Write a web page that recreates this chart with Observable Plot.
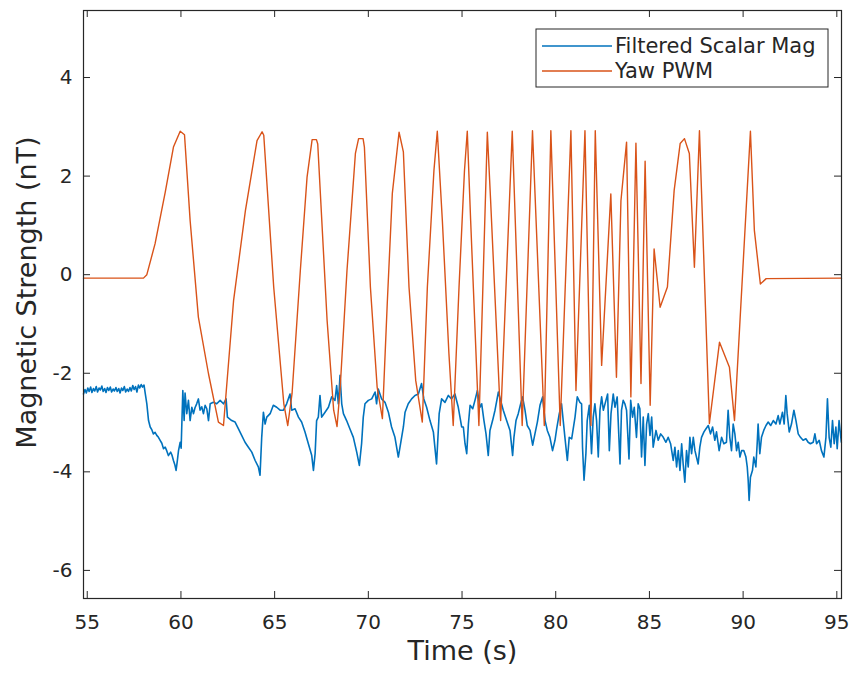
<!DOCTYPE html>
<html><head><meta charset="utf-8">
<script src="https://cdn.jsdelivr.net/npm/d3@7"></script>
<script src="https://cdn.jsdelivr.net/npm/@observablehq/plot@0.6"></script>
<style>html,body{margin:0;padding:0;background:#fff} svg{display:block}</style>
</head><body><div id="chart"></div>
<script>
// ---- data ----
const magTime = [54.80,54.88,54.95,55.03,55.10,55.18,55.25,55.33,55.40,55.48,55.55,55.63,55.70,55.78,55.85,55.93,56.00,56.08,56.15,56.23,56.30,56.38,56.45,56.53,56.60,56.68,56.75,56.83,56.90,56.98,57.05,57.13,57.20,57.28,57.35,57.43,57.50,57.58,57.65,57.73,57.80,57.88,57.95,58.03,
58.09,58.18,58.27,58.36,58.45,58.53,58.62,58.71,58.80,58.89,58.98,59.07,59.16,59.24,59.33,59.45,59.52,59.60,59.67,59.74,59.80,59.87,59.96,60.01,60.10,60.17,60.22,60.31,60.40,60.49,60.58,60.67,60.75,60.84,60.93,61.02,61.11,61.20,61.29,61.38,61.47,61.56,61.73,61.91,62.09,62.27,62.41,62.48,62.71,62.89,63.07,63.24,63.42,63.60,63.78,63.96,64.13,64.22,64.31,64.40,64.49,64.58,64.76,64.93,65.11,65.29,65.47,65.64,65.82,65.91,66.09,66.27,66.44,66.62,66.80,66.98,67.07,67.16,67.24,67.33,67.42,67.51,67.69,67.87,68.04,68.22,68.31,68.40,68.49,68.58,68.67,68.84,69.02,69.20,69.38,69.52,69.64,69.73,69.82,70.00,70.18,70.36,70.44,70.53,70.71,70.89,71.07,71.24,71.42,71.60,71.69,71.87,71.96,72.13,72.31,72.49,72.67,72.84,72.96,73.11,73.29,73.47,73.64,73.78,73.91,74.09,74.27,74.44,74.62,74.80,74.98,
75.07,75.16,75.25,75.34,75.43,75.57,75.69,75.82,75.96,76.05,76.17,76.28,76.40,76.49,76.63,76.76,76.94,77.06,77.20,77.38,77.56,77.70,77.77,77.88,78.00,78.13,78.23,78.36,78.48,78.63,78.77,78.89,79.02,79.16,79.30,79.43,79.55,79.69,79.83,79.96,80.05,80.19,80.31,80.40,80.49,80.62,80.72,80.85,81.03,81.15,81.29,81.38,81.43,81.51,81.61,81.68,81.79,81.91,82.00,82.09,82.18,82.27,82.36,82.45,82.54,82.68,82.77,82.86,82.95,83.07,83.16,83.28,83.43,83.51,83.60,83.69,83.78,83.91,84.00,84.10,84.19,84.31,84.40,84.49,84.58,84.67,84.76,84.85,84.94,85.03,85.12,85.20,85.35,85.47,85.60,85.74,85.88,86.00,86.13,86.27,86.36,86.45,86.54,86.63,86.72,86.80,86.89,86.98,87.07,87.16,87.25,87.34,87.43,87.51,87.60,87.69,87.78,87.91,88.01,88.14,88.26,88.37,88.49,88.58,88.72,88.85,88.97,89.11,89.20,89.29,89.38,89.47,89.56,89.65,89.74,89.83,89.92,90.04,90.15,90.22,90.27,90.32,90.39,90.50,90.57,90.68,90.75,90.80,90.89,90.98,91.10,91.22,91.34,91.47,91.61,91.75,91.87,91.96,92.10,92.19,92.28,92.35,92.46,92.58,92.71,92.82,92.94,93.06,93.20,93.35,93.47,93.59,93.74,93.83,93.92,94.06,94.18,94.31,94.42,94.50,94.59,94.68,94.77,94.86,94.95,95.02,95.12,95.24];
const magValue = [-2.42,-2.33,-2.40,-2.30,-2.37,-2.28,-2.39,-2.31,-2.36,-2.27,-2.38,-2.30,-2.34,-2.26,-2.37,-2.31,-2.39,-2.29,-2.35,-2.28,-2.38,-2.32,-2.36,-2.29,-2.37,-2.31,-2.40,-2.30,-2.35,-2.27,-2.38,-2.32,-2.37,-2.29,-2.36,-2.25,-2.33,-2.27,-2.38,-2.24,-2.30,-2.23,-2.28,-2.24,
-2.40,-2.62,-2.96,-3.09,-3.15,-3.23,-3.20,-3.26,-3.30,-3.36,-3.42,-3.53,-3.50,-3.57,-3.67,-3.60,-3.66,-3.77,-3.85,-3.97,-3.80,-3.57,-3.40,-3.52,-2.35,-2.96,-2.40,-2.82,-2.55,-2.96,-2.69,-2.82,-2.70,-2.62,-2.52,-2.75,-2.68,-2.82,-2.65,-2.72,-2.96,-2.62,-2.59,-2.62,-2.55,-2.62,-2.52,-2.89,-2.96,-2.99,-3.13,-3.26,-3.40,-3.50,-3.60,-3.77,-3.90,-4.07,-3.30,-2.79,-3.03,-2.89,-2.82,-2.65,-2.69,-2.75,-2.75,-2.62,-2.42,-2.75,-2.72,-2.89,-2.99,-3.19,-3.43,-3.67,-3.97,-3.63,-2.96,-2.89,-2.45,-2.89,-2.79,-2.69,-2.48,-2.55,-2.25,-2.62,-2.04,-2.62,-2.82,-2.96,-3.13,-3.30,-3.60,-3.87,-3.43,-2.89,-2.62,-2.55,-2.52,-2.38,-2.62,-2.32,-2.52,-2.59,-2.79,-3.09,-3.30,-3.70,-3.50,-3.09,-2.79,-2.62,-2.52,-2.45,-2.42,-2.21,-2.52,-2.69,-2.96,-3.19,-3.84,-2.82,-2.52,-2.59,-2.45,-2.52,-2.42,-2.69,-3.09,
-3.09,-3.43,-3.63,-3.03,-2.65,-2.72,-2.55,-2.35,-2.69,-2.62,-2.96,-3.23,-3.67,-3.16,-2.96,-2.75,-2.38,-2.55,-2.75,-2.96,-3.16,-3.67,-3.30,-2.96,-2.82,-2.62,-2.48,-2.75,-3.06,-3.16,-3.46,-3.23,-2.99,-2.65,-2.48,-2.96,-3.16,-3.30,-3.57,-3.36,-3.13,-2.82,-2.62,-2.96,-3.30,-3.77,-3.30,-3.33,-2.89,-2.48,-2.59,-2.62,-3.50,-4.17,-3.63,-2.96,-2.65,-3.63,-2.89,-2.62,-2.96,-3.70,-2.75,-2.48,-2.75,-2.55,-2.42,-3.57,-2.82,-2.42,-2.69,-2.48,-3.84,-2.75,-2.55,-2.62,-2.75,-3.74,-2.55,-2.89,-2.69,-3.30,-2.62,-2.72,-3.70,-2.89,-3.87,-3.03,-2.82,-3.26,-2.89,-3.50,-3.16,-3.36,-3.23,-3.30,-3.40,-3.30,-3.43,-3.77,-3.50,-3.90,-3.57,-3.97,-3.43,-3.84,-4.21,-3.57,-3.90,-3.30,-3.63,-3.30,-3.57,-3.70,-3.84,-3.50,-3.30,-3.19,-3.13,-3.06,-3.23,-3.09,-3.36,-3.19,-3.57,-3.30,-3.43,-3.40,-2.75,-3.30,-3.57,-3.03,-3.23,-3.57,-3.40,-3.70,-3.57,-3.57,-3.70,-3.90,-4.17,-4.58,-4.11,-3.97,-3.70,-3.90,-3.43,-3.03,-3.63,-3.30,-3.16,-3.06,-2.99,-3.06,-2.96,-3.03,-2.86,-3.03,-2.79,-3.03,-2.45,-2.82,-3.19,-3.03,-2.75,-2.96,-3.23,-3.30,-3.36,-3.33,-3.40,-3.43,-3.40,-3.23,-3.43,-3.36,-3.57,-3.70,-3.30,-2.52,-3.30,-3.50,-2.96,-3.43,-3.09,-3.53,-2.96,-3.40];

const yawTime = [54.8,58.0,58.18,58.62,59.16,59.6,59.96,60.19,60.49,60.93,61.47,62.0,62.27,62.81,63.44,64.06,64.33,64.42,64.95,65.49,65.70,65.93,66.37,66.73,67.0,67.23,67.3,67.8,68.15,68.33,68.5,68.86,69.31,69.48,69.72,69.79,70.11,70.47,70.75,71.01,71.28,71.64,71.87,72.17,72.53,72.88,73.15,73.5,73.68,73.95,74.3,74.53,74.84,75.13,75.28,75.46,75.9,76.35,76.52,77.06,77.68,78.21,78.76,79.39,79.74,80.24,80.81,81.08,81.56,81.88,82.11,82.45,82.94,83.24,83.48,83.78,84.01,84.28,84.55,84.77,85.04,85.25,85.57,85.96,86.32,86.64,86.87,87.13,87.40,87.67,88.20,88.74,89.27,89.54,90.39,90.60,90.92,91.23,95.25];
const yawValue = [-0.07,-0.07,0.0,0.63,1.67,2.59,2.91,2.84,1.10,-0.86,-2.01,-2.99,-3.06,-0.52,1.30,2.72,2.90,2.83,-0.25,-2.62,-3.06,-2.41,0.08,1.98,2.74,2.74,2.65,-0.93,-2.75,-3.08,-2.28,0.08,2.46,2.76,2.76,2.59,-0.25,-2.28,-2.92,-0.58,1.65,2.89,2.49,-0.25,-2.15,-2.99,-0.25,2.11,2.91,1.10,-1.6,-3.06,-0.25,2.11,2.91,1.10,-3.06,2.89,1.55,-2.96,2.91,-3.06,2.92,-3.06,2.92,-3.06,2.92,-2.35,2.92,-3.06,2.92,-1.84,1.64,-2.08,1.5,2.69,-2.48,2.67,-2.21,2.30,-2.65,0.52,-0.66,-0.25,1.71,2.66,2.76,2.46,0.15,2.92,-3.02,-1.37,-1.88,-2.96,2.91,0.90,-0.19,-0.08,-0.07];

const seriesNames = ["Filtered Scalar Mag", "Yaw PWM"];
const xTicks = [55, 60, 65, 70, 75, 80, 85, 90, 95];
const yTicks = [-6, -4, -2, 0, 2, 4];
const xLabel = "Time (s)";
const yLabel = "Magnetic Strength (nT)";
const xDomain = [54.8, 95.25];
const yDomain = [-6.57, 5.36];

// ---- layout / style ----
const colors = ["#0072BD", "#D95319"];
const W = 849, H = 675, mL = 83, mR = 8, mT = 10, mB = 77;
const fw = W - mL - mR, fh = H - mT - mB;
const ink = "#262626";
const font = "'DejaVu Sans', sans-serif";

const mag = magTime.map((t, i) => ({t, v: magValue[i]}));
const yaw = yawTime.map((t, i) => ({t, v: yawValue[i]}));

function legendMark() {
  const g = d3.create("svg:g").attr("font-family", font);
  const bx = 536, by = 29, bw = 292, bh = 58;
  g.append("rect").attr("x", bx).attr("y", by).attr("width", bw).attr("height", bh)
    .attr("fill", "white").attr("stroke", ink).attr("stroke-width", 1);
  seriesNames.forEach((name, i) => {
    const cy = by + 17 + i * 25;
    g.append("line").attr("x1", bx + 6).attr("x2", bx + 76).attr("y1", cy).attr("y2", cy)
      .attr("stroke", colors[i]).attr("stroke-width", 1.5);
    g.append("text").attr("x", bx + 79).attr("y", cy).attr("dy", "0.35em")
      .attr("text-anchor", "start")
      .attr("font-size", 21).attr("fill", ink).text(name);
  });
  return g.node();
}

const plot = Plot.plot({
  width: W, height: H,
  marginLeft: mL, marginRight: mR, marginTop: mT, marginBottom: mB,
  style: {fontFamily: font, fontSize: "20px", background: "white", color: ink},
  x: {domain: xDomain},
  y: {domain: yDomain},
  marks: [
    Plot.line(mag, {x: "t", y: "v", stroke: colors[0], strokeWidth: 1.6}),
    Plot.line(yaw, {x: "t", y: "v", stroke: colors[1], strokeWidth: 1.4}),
    Plot.frame({stroke: ink, strokeWidth: 1.2}),
    Plot.tickX(xTicks, {x: d => d, insetTop: fh - 7, stroke: ink}),
    Plot.tickX(xTicks, {x: d => d, insetBottom: fh - 7, stroke: ink}),
    Plot.tickY(yTicks, {y: d => d, insetRight: fw - 7, stroke: ink}),
    Plot.tickY(yTicks, {y: d => d, insetLeft: fw - 7, stroke: ink}),
    Plot.axisX({ticks: xTicks, tickSize: 0, tickPadding: 16, fontSize: 20, label: null, tickFormat: d => String(d)}),
    Plot.axisY({ticks: yTicks, tickSize: 0, tickPadding: 11, fontSize: 20, label: null, tickFormat: d => String(d)}),
    Plot.text([xLabel], {text: d => d, frameAnchor: "bottom", textAnchor: "middle", dy: 61, fontSize: 27, fill: ink}),
    Plot.text([yLabel], {text: d => d, frameAnchor: "left", textAnchor: "middle", rotate: -90, dx: -56, dy: -12, fontSize: 27, fill: ink}),
    legendMark
  ]
});
document.getElementById("chart").append(plot);
</script>
</body></html>
